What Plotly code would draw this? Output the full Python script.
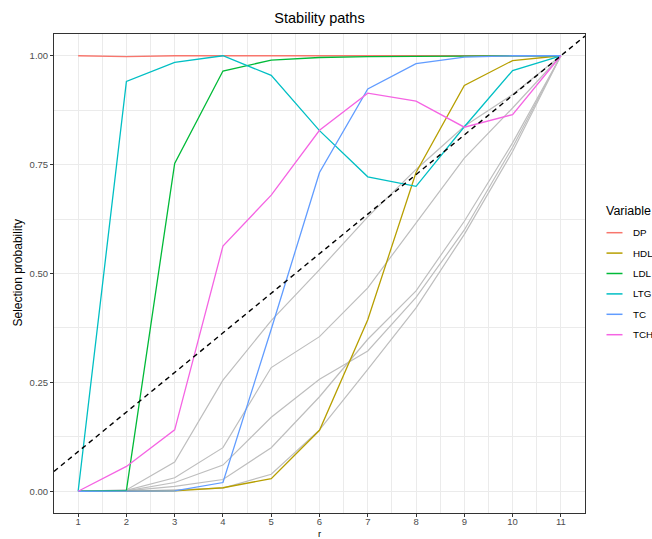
import plotly.graph_objects as go

# ---- data ----
r = [1, 2, 3, 4, 5, 6, 7, 8, 9, 10, 11]
variables = ["DP", "HDL", "LDL", "LTG", "TC", "TCH"]
colors = ["#F8766D", "#B79F00", "#00BA38", "#00BFC4", "#619CFF", "#F564E3"]
DP = [1.0, 0.998, 1.0, 1.0, 1.0, 1.0, 1.0, 1.0, 1.0, 1.0, 1.0]
HDL = [0.0, 0.0, 0.001, 0.008, 0.029, 0.140, 0.394, 0.732, 0.932, 0.989, 1.0]
LDL = [0.0, 0.002, 0.753, 0.965, 0.990, 0.996, 0.998, 0.999, 1.0, 1.0, 1.0]
LTG = [0.0, 0.941, 0.985, 1.0, 0.955, 0.828, 0.722, 0.700, 0.837, 0.966, 1.0]
TC = [0.0, 0.0, 0.001, 0.020, 0.372, 0.732, 0.924, 0.982, 0.997, 1.0, 1.0]
TCH = [0.0, 0.057, 0.141, 0.563, 0.680, 0.829, 0.914, 0.896, 0.836, 0.865, 1.0]
series = [DP, HDL, LDL, LTG, TC, TCH]
# other (non-highlighted) variables
other1 = [0.0, 0.003, 0.067, 0.255, 0.392, 0.509, 0.630, 0.739, 0.838, 0.911, 1.0]
other2 = [0.0, 0.002, 0.031, 0.100, 0.284, 0.355, 0.467, 0.615, 0.765, 0.880, 1.0]
other3 = [0.0, 0.001, 0.020, 0.060, 0.170, 0.257, 0.322, 0.445, 0.600, 0.790, 1.0]
other4 = [0.0, 0.001, 0.011, 0.027, 0.100, 0.217, 0.349, 0.460, 0.620, 0.800, 1.0]
other5 = [0.0, 0.000, 0.003, 0.007, 0.039, 0.141, 0.280, 0.421, 0.590, 0.780, 1.0]
others = [other1, other2, other3, other4, other5]
n_vars = 11
ytickvals = [0, 0.25, 0.5, 0.75, 1.0]
yticktext = ["0.00", "0.25", "0.50", "0.75", "1.00"]

# ---- layout geometry ----
W, H = 652, 539
ML, MR, MT, MB = 54, 67, 34, 26
PW, PH = W - ML - MR, H - MT - MB
FONT = "Liberation Sans, Arial, Helvetica, sans-serif"

def px_x(px):
    return (px - ML) / PW

def px_y(py):
    return (H - MB - py) / PH

fig = go.Figure()
for s in others:
    fig.add_trace(go.Scatter(x=r, y=s, mode="lines",
                             line=dict(color="#BEBEBE", width=1.2),
                             showlegend=False, hoverinfo="skip"))
for name, s, c in zip(variables, series, colors):
    fig.add_trace(go.Scatter(x=r, y=s, mode="lines", name=name,
                             line=dict(color=c, width=1.3), showlegend=False))

# reference line y = r / p
xr = [0.5, 11.5]
fig.add_trace(go.Scatter(x=xr, y=[v / n_vars for v in xr], mode="lines",
                         line=dict(color="black", width=1.4, dash="5px,4px"),
                         showlegend=False, hoverinfo="skip"))

# manual ggplot-like legend
shapes = []
annotations = []
annotations.append(dict(text="Variable", x=px_x(604), y=px_y(211), xref="paper", yref="paper",
                        xanchor="left", yanchor="middle", showarrow=False,
                        font=dict(family=FONT, size=12.5, color="black")))
for i, (name, c) in enumerate(zip(variables, colors)):
    yc = 232.7 + i * 20.4
    shapes.append(dict(type="line", xref="paper", yref="paper",
                       x0=px_x(606.5), x1=px_x(622.5), y0=px_y(yc), y1=px_y(yc),
                       line=dict(color=c, width=1.5)))
    annotations.append(dict(text=name, x=px_x(631), y=px_y(yc), xref="paper", yref="paper",
                            xanchor="left", yanchor="middle", showarrow=False,
                            font=dict(family=FONT, size=9.8, color="black")))
# axis titles
annotations.append(dict(text="Selection probability", x=px_x(17), y=0.5, xref="paper", yref="paper",
                        textangle=-90, xanchor="center", yanchor="middle", showarrow=False,
                        font=dict(family=FONT, size=12, color="black")))
annotations.append(dict(text="r", x=0.5, y=px_y(533), xref="paper", yref="paper",
                        xanchor="center", yanchor="middle", showarrow=False,
                        font=dict(family=FONT, size=9.5, color="black")))

fig.update_layout(
    width=W, height=H,
    margin=dict(l=ML, r=MR, t=MT, b=MB, autoexpand=False),
    paper_bgcolor="white", plot_bgcolor="white",
    font=dict(family=FONT),
    title=dict(text="Stability paths", x=0.5, xref="paper", xanchor="center",
               y=1 - 18 / H, yref="container", yanchor="middle",
               font=dict(family=FONT, size=14.5, color="black")),
    shapes=shapes, annotations=annotations,
    showlegend=False,
)
fig.update_xaxes(range=[0.5, 11.5], tickmode="linear", tick0=1, dtick=1, automargin=False,
                 ticklabelstandoff=-3,
                 showgrid=True, gridcolor="#EBEBEB", gridwidth=1,
                 minor=dict(showgrid=True, gridcolor="#EBEBEB", gridwidth=0.6, tick0=0.5, dtick=1),
                 zeroline=False, showline=True, mirror=True, linecolor="#333333", linewidth=1,
                 ticks="outside", ticklen=3, tickcolor="#333333", tickwidth=1,
                 tickfont=dict(family=FONT, size=9.5, color="#4D4D4D"))
fig.update_yaxes(range=[-0.05, 1.05], tickmode="array", tickvals=ytickvals, ticktext=yticktext,
                 automargin=False,
                 showgrid=True, gridcolor="#EBEBEB", gridwidth=1,
                 minor=dict(showgrid=True, gridcolor="#EBEBEB", gridwidth=0.6,
                            tickvals=[-0.125 + 0.25 * k for k in range(6)]),
                 zeroline=False, showline=True, mirror=True, linecolor="#333333", linewidth=1,
                 ticks="outside", ticklen=3, tickcolor="#333333", tickwidth=1,
                 tickfont=dict(family=FONT, size=9.5, color="#4D4D4D"))

fig.write_html("out.html")
